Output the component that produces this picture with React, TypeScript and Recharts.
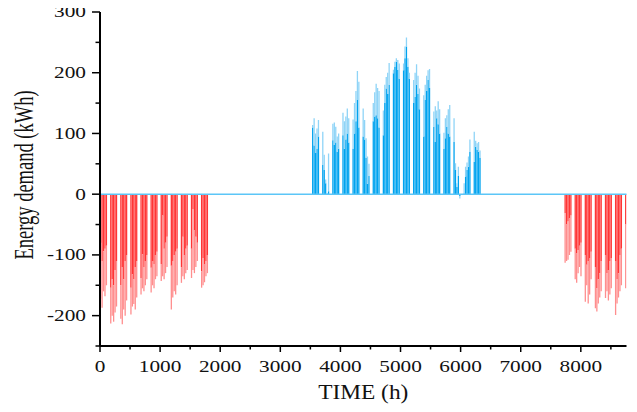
import React from "react";
import { BarChart, Bar, XAxis, YAxis, ReferenceLine } from "recharts";

// Day index of the first day of each block (weeks of 5 working days)
const winterStartDay = 0;
const summerStartDay = 147;
const lateWinterStartDay = 322;

// Heating demand (kWh), peak and typical level per working day, one row per week
const winterPeak = [
  [-172, -187, -160, -168, -150],
  [-213, -200, -210, -195, -185],
  [-205, -214, -190, -200, -175],
  [-198, -185, -181, -190, -170],
  [-165, -155, -160, -150, -140],
  [-162, -150, -155, -140, -135],
  [-143, -135, -140, -130, -120],
  [-190, -170, -160, -165, -150],
  [-146, -135, -140, -130, -125],
  [-138, -125, -130, -120, -110],
  [-154, -150, -145, -135, -130],
];
const winterBase = [
  [-80, -110, -94, -90, -85],
  [-154, -140, -150, -125, -110],
  [-150, -120, -140, -110, -100],
  [-154, -132, -140, -120, -110],
  [-138, -99, -120, -110, -100],
  [-121, -110, -115, -100, -95],
  [-115, -35, -90, -80, -70],
  [-118, -110, -100, -95, -90],
  [-120, -70, -100, -90, -85],
  [-90, -25, -60, -70, -80],
  [-127, -105, -115, -110, -100],
];

// Cooling demand (kWh)
const summerPeak = [
  [114, 125, 100, 108, 122],
  [103, 65, 24, 2, 67],
  [116, 118, 111, 95, 100],
  [134, 120, 128, 141, 125],
  [123, 150, 170, 203, 185],
  [141, 122, 92, 62, 50],
  [150, 168, 182, 175, 170],
  [138, 180, 193, 200, 216],
  [205, 218, 224, 221, 215],
  [215, 243, 258, 224, 200],
  [188, 200, 214, 195, 174],
  [163, 180, 195, 204, 206],
  [136, 145, 138, 153, 140],
  [101, 125, 130, 140, 147],
  [125, 51, 18, 45, -7],
  [18, 45, 52, 62, 90],
  [103, 88, 84, 86, 72],
];
const summerBase = [
  [110, 80, 68, 75, 95],
  [48, 40, 18, 0, 5],
  [89, 81, 85, 70, 75],
  [97, 75, 90, 100, 85],
  [75, 100, 120, 155, 110],
  [95, 90, 60, 17, 30],
  [120, 128, 130, 125, 110],
  [97, 150, 174, 165, 180],
  [199, 210, 218, 205, 190],
  [204, 224, 243, 210, 190],
  [150, 160, 180, 165, 140],
  [95, 155, 170, 188, 175],
  [111, 86, 125, 115, 100],
  [75, 92, 111, 100, 95],
  [86, 40, 12, 30, -3],
  [1, 29, 40, 45, 70],
  [53, 78, 73, 70, 60],
];

const lateWinterPeak = [
  [-113, -110, -108, -100, -95],
  [-140, -146, -130, -120, -135],
  [-177, -150, -180, -165, -140],
  [-188, -193, -180, -170, -160],
  [-171, -160, -175, -165, -155],
  [-199, -180, -170, -160, -150],
  [-155],
];
const lateWinterBase = [
  [-31, -50, -45, -40, -35],
  [-90, -97, -92, -85, -80],
  [-100, -116, -110, -105, -95],
  [-120, -155, -140, -130, -110],
  [-100, -130, -125, -110, -105],
  [-110, -140, -130, -100, -90],
  [-50],
];

const xTicks = [0, 500, 1000, 1500, 2000, 2500, 3000, 3500, 4000, 4500, 5000, 5500, 6000, 6500, 7000, 7500, 8000, 8500];
const yTicks = [-250, -200, -150, -100, -50, 0, 50, 100, 150, 200, 250, 300];

type Row = { x: number; hBase: number; hExtra: number; cBase: number; cExtra: number };

function addBlock(rows: Row[], start: number, peak: number[][], base: number[][], heating: boolean) {
  peak.forEach((week, w) => {
    week.forEach((p, j) => {
      const day = start + w * 7 + j;
      const b = base[w][j];
      rows.push({
        x: day * 24 + 12,
        hBase: heating ? b : 0,
        hExtra: heating ? p - b : 0,
        cBase: heating ? 0 : b,
        cExtra: heating ? 0 : p - b,
      });
    });
  });
}

const data: Row[] = [];
addBlock(data, winterStartDay, winterPeak, winterBase, true);
addBlock(data, summerStartDay, summerPeak, summerBase, false);
addBlock(data, lateWinterStartDay, lateWinterPeak, lateWinterBase, true);

const FONT = '"Liberation Serif", "Times New Roman", serif';

const XTick = (props: any) => {
  const { x, y, payload } = props;
  const v = payload.value;
  const major = v % 1000 === 0;
  return (
    <g>
      <line x1={x} y1={y} x2={x} y2={y + (major ? 6 : 3.5)} stroke="#000" strokeWidth={1.5} />
      {major && (
        <text
          transform={`translate(${x},${y + 25.5}) scale(1.33,1)`}
          textAnchor="middle"
          fontFamily={FONT}
          fontSize={16}
          fill="#111"
        >
          {v}
        </text>
      )}
    </g>
  );
};

const YTick = (props: any) => {
  const { x, y, payload } = props;
  const v = payload.value;
  const major = v % 100 === 0;
  return (
    <g>
      <line x1={x} y1={y} x2={x - (major ? 8 : 4.5)} y2={y} stroke="#000" strokeWidth={1.5} />
      {major && (
        <text
          transform={`translate(${x - 14},${y + 5.4}) scale(1.33,1)`}
          textAnchor="end"
          fontFamily={FONT}
          fontSize={16}
          fill="#111"
        >
          {v}
        </text>
      )}
    </g>
  );
};

const YLabel = (props: any) => {
  const vb = props.viewBox || { x: 0, y: 12, width: 100, height: 334 };
  const cx = vb.x + 33;
  const cy = vb.y + vb.height / 2 - 4;
  return (
    <text
      transform={`translate(${cx},${cy}) rotate(-90) scale(1,1.45)`}
      textAnchor="middle"
      fontFamily={FONT}
      fontSize={18.5}
      fill="#111"
    >
      Energy demand (kWh)
    </text>
  );
};

const XLabel = (props: any) => {
  const vb = props.viewBox || { x: 100, y: 346, width: 526, height: 66 };
  const cx = vb.x + vb.width / 2;
  const cy = vb.y + 53.3;
  return (
    <text
      transform={`translate(${cx},${cy}) scale(1.17,1)`}
      textAnchor="middle"
      fontFamily={FONT}
      fontSize={20}
      fill="#111"
    >
      TIME (h)
    </text>
  );
};

export default function App() {
  return (
    <div style={{ margin: "-8px 0 0 -8px", width: 637, height: 412 }}>
      <BarChart
        width={637}
        height={412}
        data={data}
        stackOffset="sign"
        barGap={0}
        margin={{ top: 12, right: 10.5, bottom: 0, left: 0 }}
      >
        <XAxis
          type="number"
          dataKey="x"
          domain={[0, 8760]}
          ticks={xTicks}
          interval={0}
          allowDataOverflow
          height={66}
          axisLine={{ stroke: "#000", strokeWidth: 2 }}
          tickLine={false}
          tickSize={0}
          tickMargin={0}
          tick={<XTick />}
          label={<XLabel />}
        />
        <YAxis
          type="number"
          domain={[-250, 300]}
          ticks={yTicks}
          interval={0}
          allowDataOverflow
          width={100}
          axisLine={{ stroke: "#000", strokeWidth: 2 }}
          tickLine={false}
          tickSize={0}
          tickMargin={0}
          tick={<YTick />}
          label={<YLabel />}
        />
        <Bar dataKey="hBase" stackId="s" fill="#ff3535" barSize={1.5} isAnimationActive={false} />
        <Bar dataKey="hExtra" stackId="s" fill="#ff8e8e" barSize={1.5} isAnimationActive={false} />
        <Bar dataKey="cBase" stackId="s" fill="#00a3ef" barSize={1.5} isAnimationActive={false} />
        <Bar dataKey="cExtra" stackId="s" fill="#8fd4f7" barSize={1.5} isAnimationActive={false} />
        <ReferenceLine y={0} stroke="#5cc6f7" strokeWidth={1.5} ifOverflow="extendDomain" />
      </BarChart>
    </div>
  );
}
